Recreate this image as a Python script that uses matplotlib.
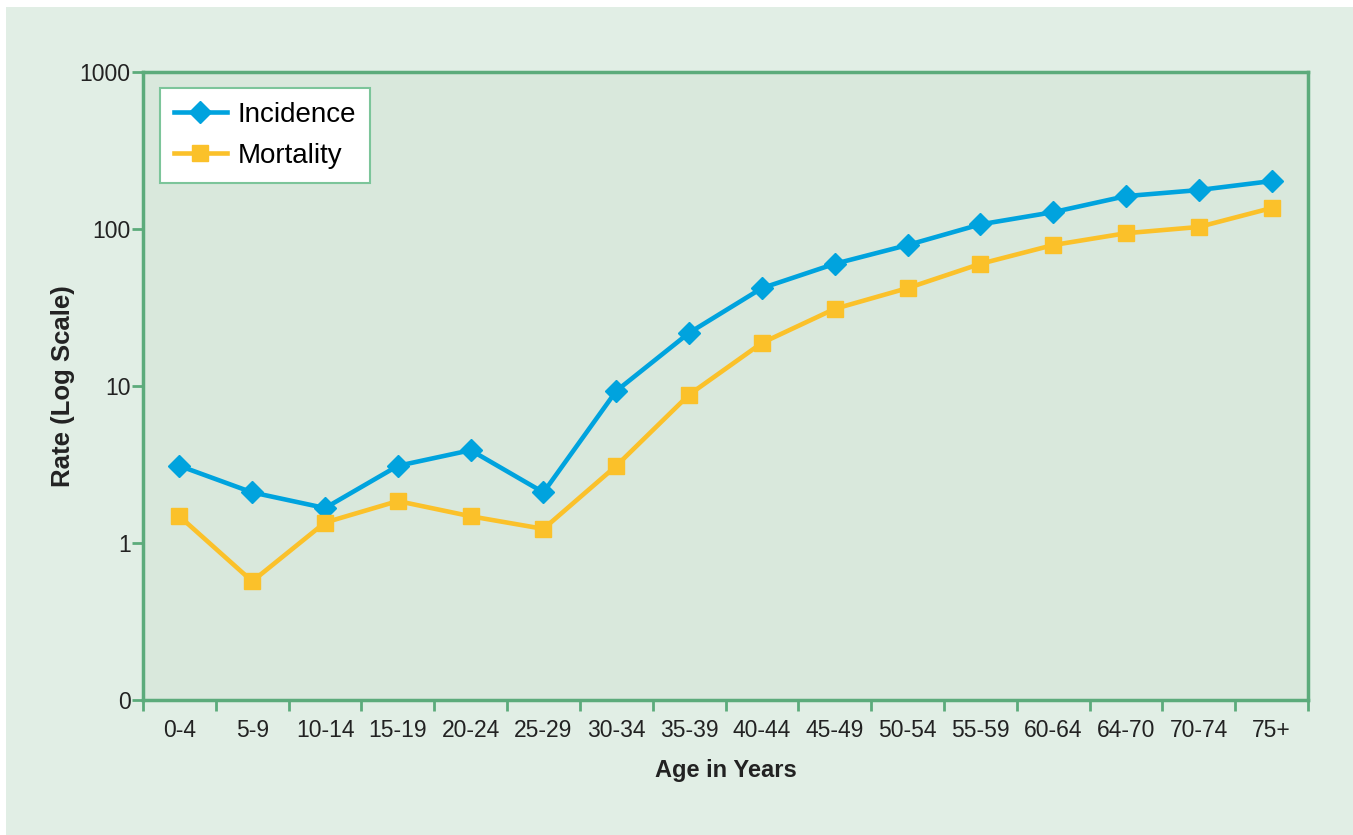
import numpy as np
import matplotlib
matplotlib.use("Agg")
import matplotlib.pyplot as plt
from matplotlib.patches import Rectangle

plt.rcParams['font.family'] = ['Liberation Sans', 'DejaVu Sans']

# Datos
edades = ["0-4", "5-9", "10-14", "15-19", "20-24", "25-29", "30-34", "35-39",
          "40-44", "45-49", "50-54", "55-59", "60-64", "64-70", "70-74", "75+"]
incidencia = [3.1, 2.1, 1.67, 3.1, 3.9, 2.1, 9.3, 21.8,
              42, 60, 79, 107, 128, 162, 177, 202]
mortalidad = [1.48, 0.57, 1.35, 1.85, 1.48, 1.23, 3.1, 8.8,
              18.8, 31, 42, 60, 79, 94, 103, 136]

ticks_y = [0.1, 1, 10, 100, 1000]
etiquetas_y = ["0", "1", "10", "100", "1000"]

verde = "#5cab7b"
azul = "#00a3de"
amarillo = "#fbc12a"

fig = plt.figure(figsize=(13.53, 8.35), dpi=100, facecolor="white")
fig.patches.append(Rectangle((6/1353, 0), 1, 1 - 7/835, transform=fig.transFigure,
                             facecolor="#e1eee5", edgecolor="none", zorder=-10))

ax = fig.add_axes([143/1353, 1 - 700/835, 1165/1353, 628/835])
ax.set_facecolor("#d9e8dc")

x = np.arange(len(edades))
ax.plot(x, incidencia, color=azul, lw=3.3, marker="D", markersize=11,
        label="Incidence", zorder=3)
ax.plot(x, mortalidad, color=amarillo, lw=3.3, marker="s", markersize=12,
        label="Mortality", zorder=3)

ax.set_yscale("log")
ax.set_ylim(0.1, 1000)
ax.set_yticks(ticks_y)
ax.set_yticklabels(etiquetas_y)
ax.minorticks_off()
ax.set_xlim(-0.5, len(edades) - 0.5)

# ticks del eje x entre categorias, etiquetas en el centro
ax.set_xticks(np.arange(-0.5, len(edades), 1))
ax.set_xticklabels([])
ax.set_xticks(x, minor=True)
ax.set_xticklabels(edades, minor=True)
ax.tick_params(axis="x", which="major", direction="out", length=8, width=2, color=verde)
ax.tick_params(axis="x", which="minor", length=0, pad=14, labelsize=16.5, labelcolor="#222222")
ax.tick_params(axis="y", direction="out", length=8, width=2, color=verde,
               labelsize=16.5, labelcolor="#222222", pad=1)

for s in ax.spines.values():
    s.set_color(verde)
    s.set_linewidth(2.5)

ax.set_xlabel("Age in Years", fontsize=17, fontweight="bold", labelpad=12, color="#222222")
ax.set_ylabel("Rate (Log Scale)", fontsize=18.5, fontweight="bold", labelpad=3, color="#222222")

leg = ax.legend(loc="upper left", bbox_to_anchor=(0.0146, 0.975), fontsize=20,
                fancybox=False, framealpha=1, edgecolor="#7cc59a", borderaxespad=0,
                handlelength=1.9, borderpad=0.5, labelspacing=0.55, handletextpad=0.4)
leg.get_frame().set_linewidth(1.5)

fig.savefig("out.png", dpi=100, facecolor=fig.get_facecolor())
